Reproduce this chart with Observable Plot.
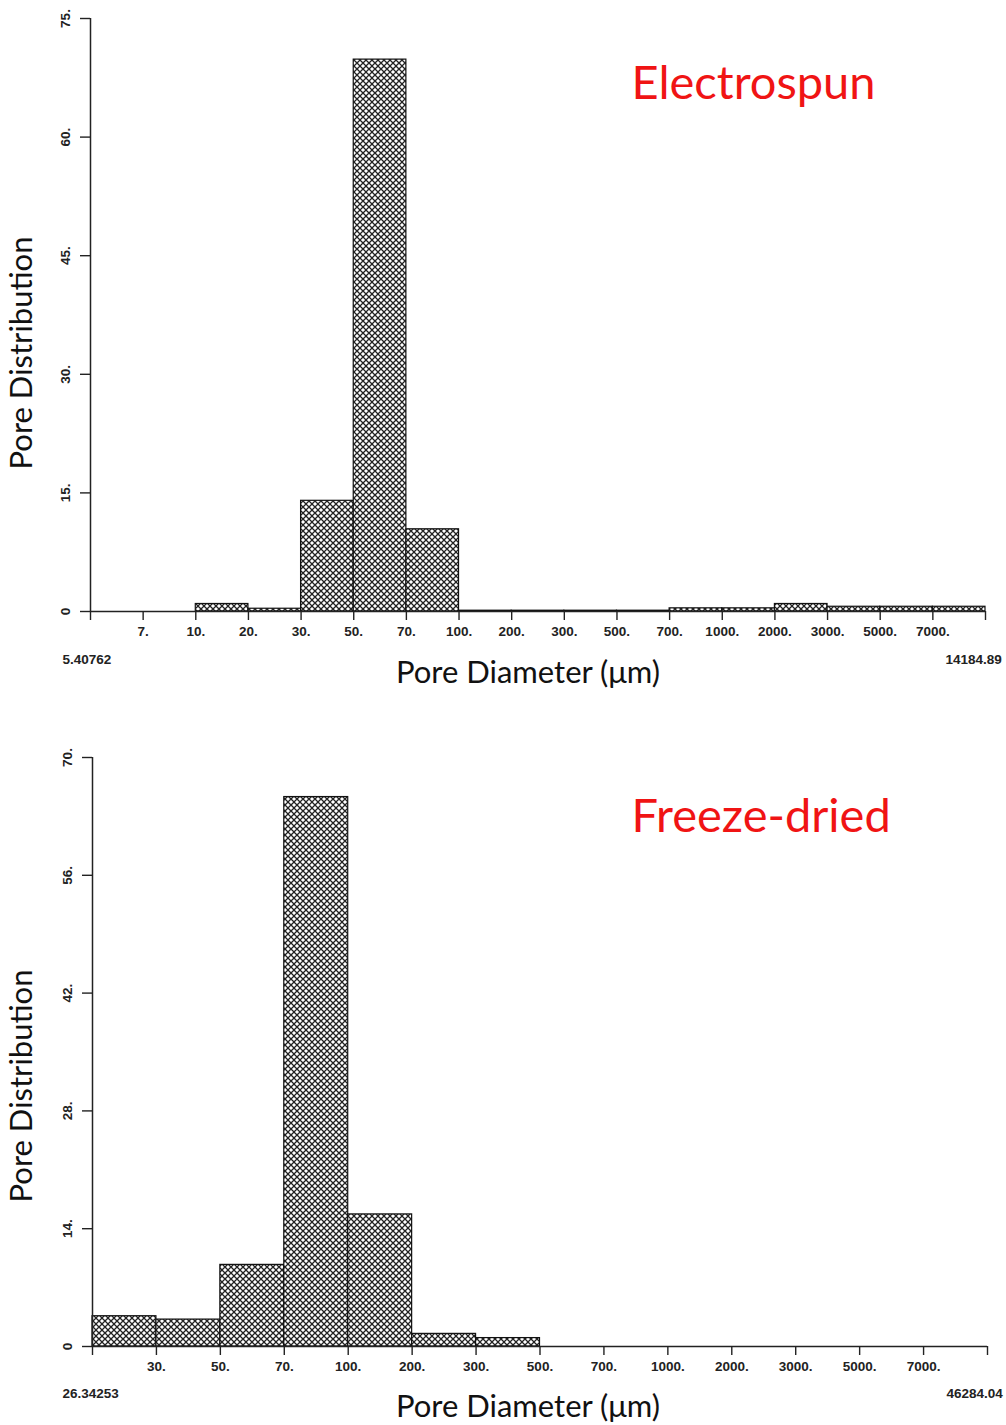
<!DOCTYPE html>
<html><head><meta charset="utf-8">
<script src="https://cdn.jsdelivr.net/npm/d3@7"></script>
<script src="https://cdn.jsdelivr.net/npm/@observablehq/plot@0.6"></script>
<style>
body{margin:0;background:#fff;}
#chart{width:1006px;height:1425px;position:relative;overflow:hidden;background:#fff;}
#chart svg{display:block;}
</style>
</head><body><div id="chart"></div>
<script>
// ---- data ----
const topEdges = ["5.40762","7.","10.","20.","30.","50.","70.","100.","200.","300.","500.","700.","1000.","2000.","3000.","5000.","7000.","14184.89"];
const topValues = [0, 0, 0.95, 0.35, 14.0, 69.8, 10.4, 0.1, 0.1, 0.1, 0.1, 0.4, 0.4, 0.95, 0.6, 0.6, 0.6];
const topYTicks = [0, 15, 30, 45, 60, 75];

const botEdges = ["26.34253","30.","50.","70.","100.","200.","300.","500.","700.","1000.","2000.","3000.","5000.","7000.","46284.04"];
const botValues = [3.6, 3.2, 9.7, 65.3, 15.7, 1.5, 1.0, 0, 0, 0, 0, 0, 0, 0];
const botYTicks = [0, 14, 28, 42, 56, 70];

const titles = ["Electrospun", "Freeze-dried"];
const xLabel = "Pore Diameter (μm)";
const yLabel = "Pore Distribution";

const tickFont = "'Liberation Sans Narrow','Liberation Sans',Arial,sans-serif";
const endFont = "'Liberation Sans',Arial,sans-serif";
const labelFont = "Lato,'Open Sans',sans-serif";

function panel(cfg) {
  const n = cfg.edges.length - 1;
  const bins = cfg.values.map((v, i) => ({i, v}));
  const ymax = cfg.yTicks[cfg.yTicks.length - 1];
  const svg = Plot.plot({
    width: 1006,
    height: cfg.height,
    marginTop: cfg.mt,
    marginBottom: cfg.mb,
    marginLeft: cfg.ml,
    marginRight: cfg.mr,
    style: {background: "#fff", color: "#000", fontFamily: tickFont, overflow: "hidden"},
    x: {domain: [0, n]},
    y: {domain: [0, ymax]},
    marks: [
      Plot.rectY(bins, {x1: d => d.i, x2: d => d.i + 1, y: "v", fill: `url(#${cfg.pid})`, stroke: "#111", strokeWidth: 1.2}),
      Plot.ruleY([0], {x1: 0, x2: n, stroke: "#222", strokeWidth: 1.5}),
      Plot.ruleX([0], {y1: 0, y2: ymax, stroke: "#222", strokeWidth: 1.5}),
      Plot.axisX(d3.range(n + 1), {
        tickSize: 9, tickPadding: 6, stroke: "#222", strokeWidth: 1.4,
        tickFormat: i => (i === 0 || i === n) ? "" : cfg.edges[i],
        fontSize: 13.5, fontWeight: "bold", fill: "#222", label: null
      }),
      Plot.axisY(cfg.yTicks, {
        tickSize: 10, tickPadding: 11, tickRotate: -90, stroke: "#222", strokeWidth: 1.4,
        tickFormat: d => d === 0 ? "0" : d + ".",
        fontSize: 13.5, fontWeight: "bold", fill: "#222", label: null
      }),
      Plot.text([cfg.edges[0]], {x: 0, y: 0, text: d => d, textAnchor: "start", dx: cfg.e0dx, dy: cfg.edy, fontSize: 13.5, fontFamily: endFont, fontWeight: "bold", fill: "#222"}),
      Plot.text([cfg.edges[n]], {x: n, y: 0, text: d => d, textAnchor: "start", dx: cfg.endx, dy: cfg.edy, fontSize: 13.5, fontFamily: endFont, fontWeight: "bold", fill: "#222"}),
      Plot.text([xLabel], {frameAnchor: "bottom", text: d => d, textAnchor: "middle", dx: cfg.xldx, dy: cfg.xldy, fontSize: 31, fontFamily: labelFont, fill: "#111"}),
      Plot.text([yLabel], {frameAnchor: "left", text: d => d, textAnchor: "middle", rotate: -90, dx: cfg.yldx, dy: cfg.yldy, fontSize: 31, fontFamily: labelFont, fill: "#111"}),
      Plot.text([cfg.title], {frameAnchor: "top-left", text: d => d, textAnchor: "start", lineAnchor: "middle", dx: cfg.tdx, dy: cfg.tdy, fontSize: 47, fontFamily: labelFont, fill: "#f01414"})
    ]
  });
  // cross-hatch pattern used by the bars
  const defs = d3.select(svg).insert("defs", ":first-child");
  const p = defs.append("pattern").attr("id", cfg.pid).attr("patternUnits", "userSpaceOnUse")
    .attr("width", 6).attr("height", 6);
  p.append("rect").attr("width", 6).attr("height", 6).attr("fill", "#fff");
  p.append("path").attr("d", "M-1,-1L7,7M-1,7L7,-1").attr("stroke", "#222").attr("stroke-width", 1.3).attr("fill", "none");
  return svg;
}

const root = document.getElementById("chart");
root.appendChild(panel({
  edges: topEdges, values: topValues, yTicks: topYTicks, title: titles[0], pid: "hatchTop",
  height: 700, mt: 18, mb: 89, ml: 90, mr: 21,
  e0dx: -28, endx: -40, edy: 48,
  xldx: -10, xldy: 71, yldx: -68, yldy: 38, tdx: 541, tdy: 65
}));
root.appendChild(panel({
  edges: botEdges, values: botValues, yTicks: botYTicks, title: titles[1], pid: "hatchBot",
  height: 725, mt: 57, mb: 79, ml: 92, mr: 19,
  e0dx: -30, endx: -41, edy: 47,
  xldx: -12, xldy: 70, yldx: -70, yldy: 34, tdx: 539, tdy: 59
}));
</script>
</body></html>
